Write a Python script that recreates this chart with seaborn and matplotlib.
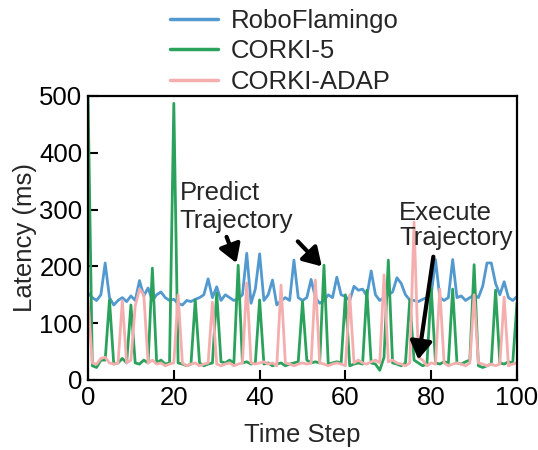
import numpy as np
import pandas as pd
import matplotlib
matplotlib.use("Agg")
import matplotlib.pyplot as plt
import seaborn as sns
from matplotlib.lines import Line2D

steps = list(range(101))

roboflamingo = [153, 145, 140, 150, 206, 145, 132, 140, 145, 138,
                148, 140, 175, 148, 162, 140, 150, 155, 145, 140,
                142, 135, 132, 140, 138, 142, 145, 150, 178, 145,
                164, 140, 150, 145, 140, 143, 150, 223, 135, 160,
                222, 140, 150, 176, 132, 140, 145, 140, 211, 145,
                140, 145, 177, 145, 135, 140, 150, 145, 181, 150,
                147, 140, 165, 158, 160, 148, 192, 150, 140, 145,
                150, 155, 180, 170, 150, 141, 140, 138, 142, 145,
                150, 212, 145, 140, 145, 212, 145, 148, 140, 145,
                150, 145, 165, 206, 206, 170, 150, 173, 145, 140,
                147]

corki_5 = [500, 25, 22, 35, 35, 141, 28, 30, 38, 30,
           132, 30, 28, 35, 30, 197, 30, 35, 28, 30,
           487, 30, 28, 25, 28, 141, 30, 25, 28, 30,
           153, 32, 30, 35, 30, 202, 30, 32, 28, 30,
           141, 28, 30, 25, 28, 30, 25, 28, 30, 32,
           138, 35, 30, 32, 30, 202, 28, 30, 32, 30,
           150, 25, 28, 30, 28, 158, 30, 28, 17, 40,
           211, 30, 28, 25, 30, 141, 35, 30, 25, 28,
           162, 30, 28, 32, 30, 160, 30, 28, 32, 35,
           203, 25, 22, 25, 28, 158, 30, 28, 32, 30,
           137]

corki_adap = [141, 30, 28, 38, 40, 30, 28, 30, 140, 30,
              35, 130, 160, 150, 30, 35, 28, 30, 25, 28,
              30, 150, 30, 25, 28, 30, 25, 28, 30, 137,
              28, 25, 28, 30, 25, 28, 30, 171, 30, 28,
              30, 32, 28, 30, 25, 167, 30, 28, 25, 28,
              30, 28, 30, 176, 30, 28, 25, 28, 30, 28,
              25, 150, 30, 35, 30, 28, 32, 35, 30, 185,
              32, 35, 30, 28, 25, 30, 278, 40, 35, 25,
              30, 28, 160, 30, 25, 28, 30, 28, 25, 30,
              150, 30, 28, 25, 28, 25, 28, 146, 25, 28,
              30]

series_names = ["RoboFlamingo", "CORKI-5", "CORKI-ADAP"]
colors = ["#5299cf", "#2ba25b", "#f4aeae"]

x_ticks = [0, 20, 40, 60, 80, 100]
y_ticks = [0, 100, 200, 300, 400, 500]

df = pd.DataFrame({
    "Time Step": steps * 3,
    "Latency (ms)": roboflamingo + corki_5 + corki_adap,
    "Method": [series_names[0]] * 101 + [series_names[1]] * 101 + [series_names[2]] * 101,
})

sns.set_theme(style="ticks")
plt.rcParams['font.family'] = ['Liberation Sans', 'DejaVu Sans']
FS = 18.5

fig = plt.figure(figsize=(5.38, 4.5), dpi=100)
ax = fig.add_axes([0.1636, 0.1556, 0.961 - 0.1636, 0.7867 - 0.1556])

sns.lineplot(data=df, x="Time Step", y="Latency (ms)", hue="Method",
             hue_order=series_names, palette=colors, linewidth=2.0,
             ax=ax, legend=False)

ax.set_xlim(0, 100)
ax.set_ylim(0, 500)
ax.set_xticks(x_ticks)
ax.set_yticks(y_ticks)
ax.tick_params(direction="in", length=7, width=1.5, labelsize=FS, colors="black", pad=4)
for s in ax.spines.values():
    s.set_linewidth(1.6)
    s.set_color("black")
ax.set_xlabel("Time Step", fontsize=FS, labelpad=10)
ax.set_ylabel("Latency (ms)", fontsize=FS, labelpad=2)

handles = [Line2D([0], [0], color=c, lw=2.5) for c in colors]
fig.legend(handles, series_names, loc="upper left", bbox_to_anchor=(0.283, 1.02),
           frameon=False, fontsize=FS, handlelength=1.85, handletextpad=0.5,
           labelspacing=0.25, borderpad=0.2)

arrowprops = dict(arrowstyle="-|>,head_width=0.55,head_length=0.9", color="black", lw=3,
                  shrinkA=0, shrinkB=0)
ax.text(21.3, 305, "Predict\nTrajectory", fontsize=FS, ha="left", va="center",
        linespacing=1.2)
ax.annotate("", xy=(34.6, 206), xytext=(32.3, 252), arrowprops=arrowprops)
ax.annotate("", xy=(54.5, 200), xytext=(48.9, 244), arrowprops=arrowprops)

ax.text(72.5, 272, "Execute\nTrajectory", fontsize=FS, ha="left", va="center",
        linespacing=1.1)
ax.annotate("", xy=(77.0, 36), xytext=(80.5, 217), arrowprops=arrowprops)

fig.savefig("out.png", dpi=100)
